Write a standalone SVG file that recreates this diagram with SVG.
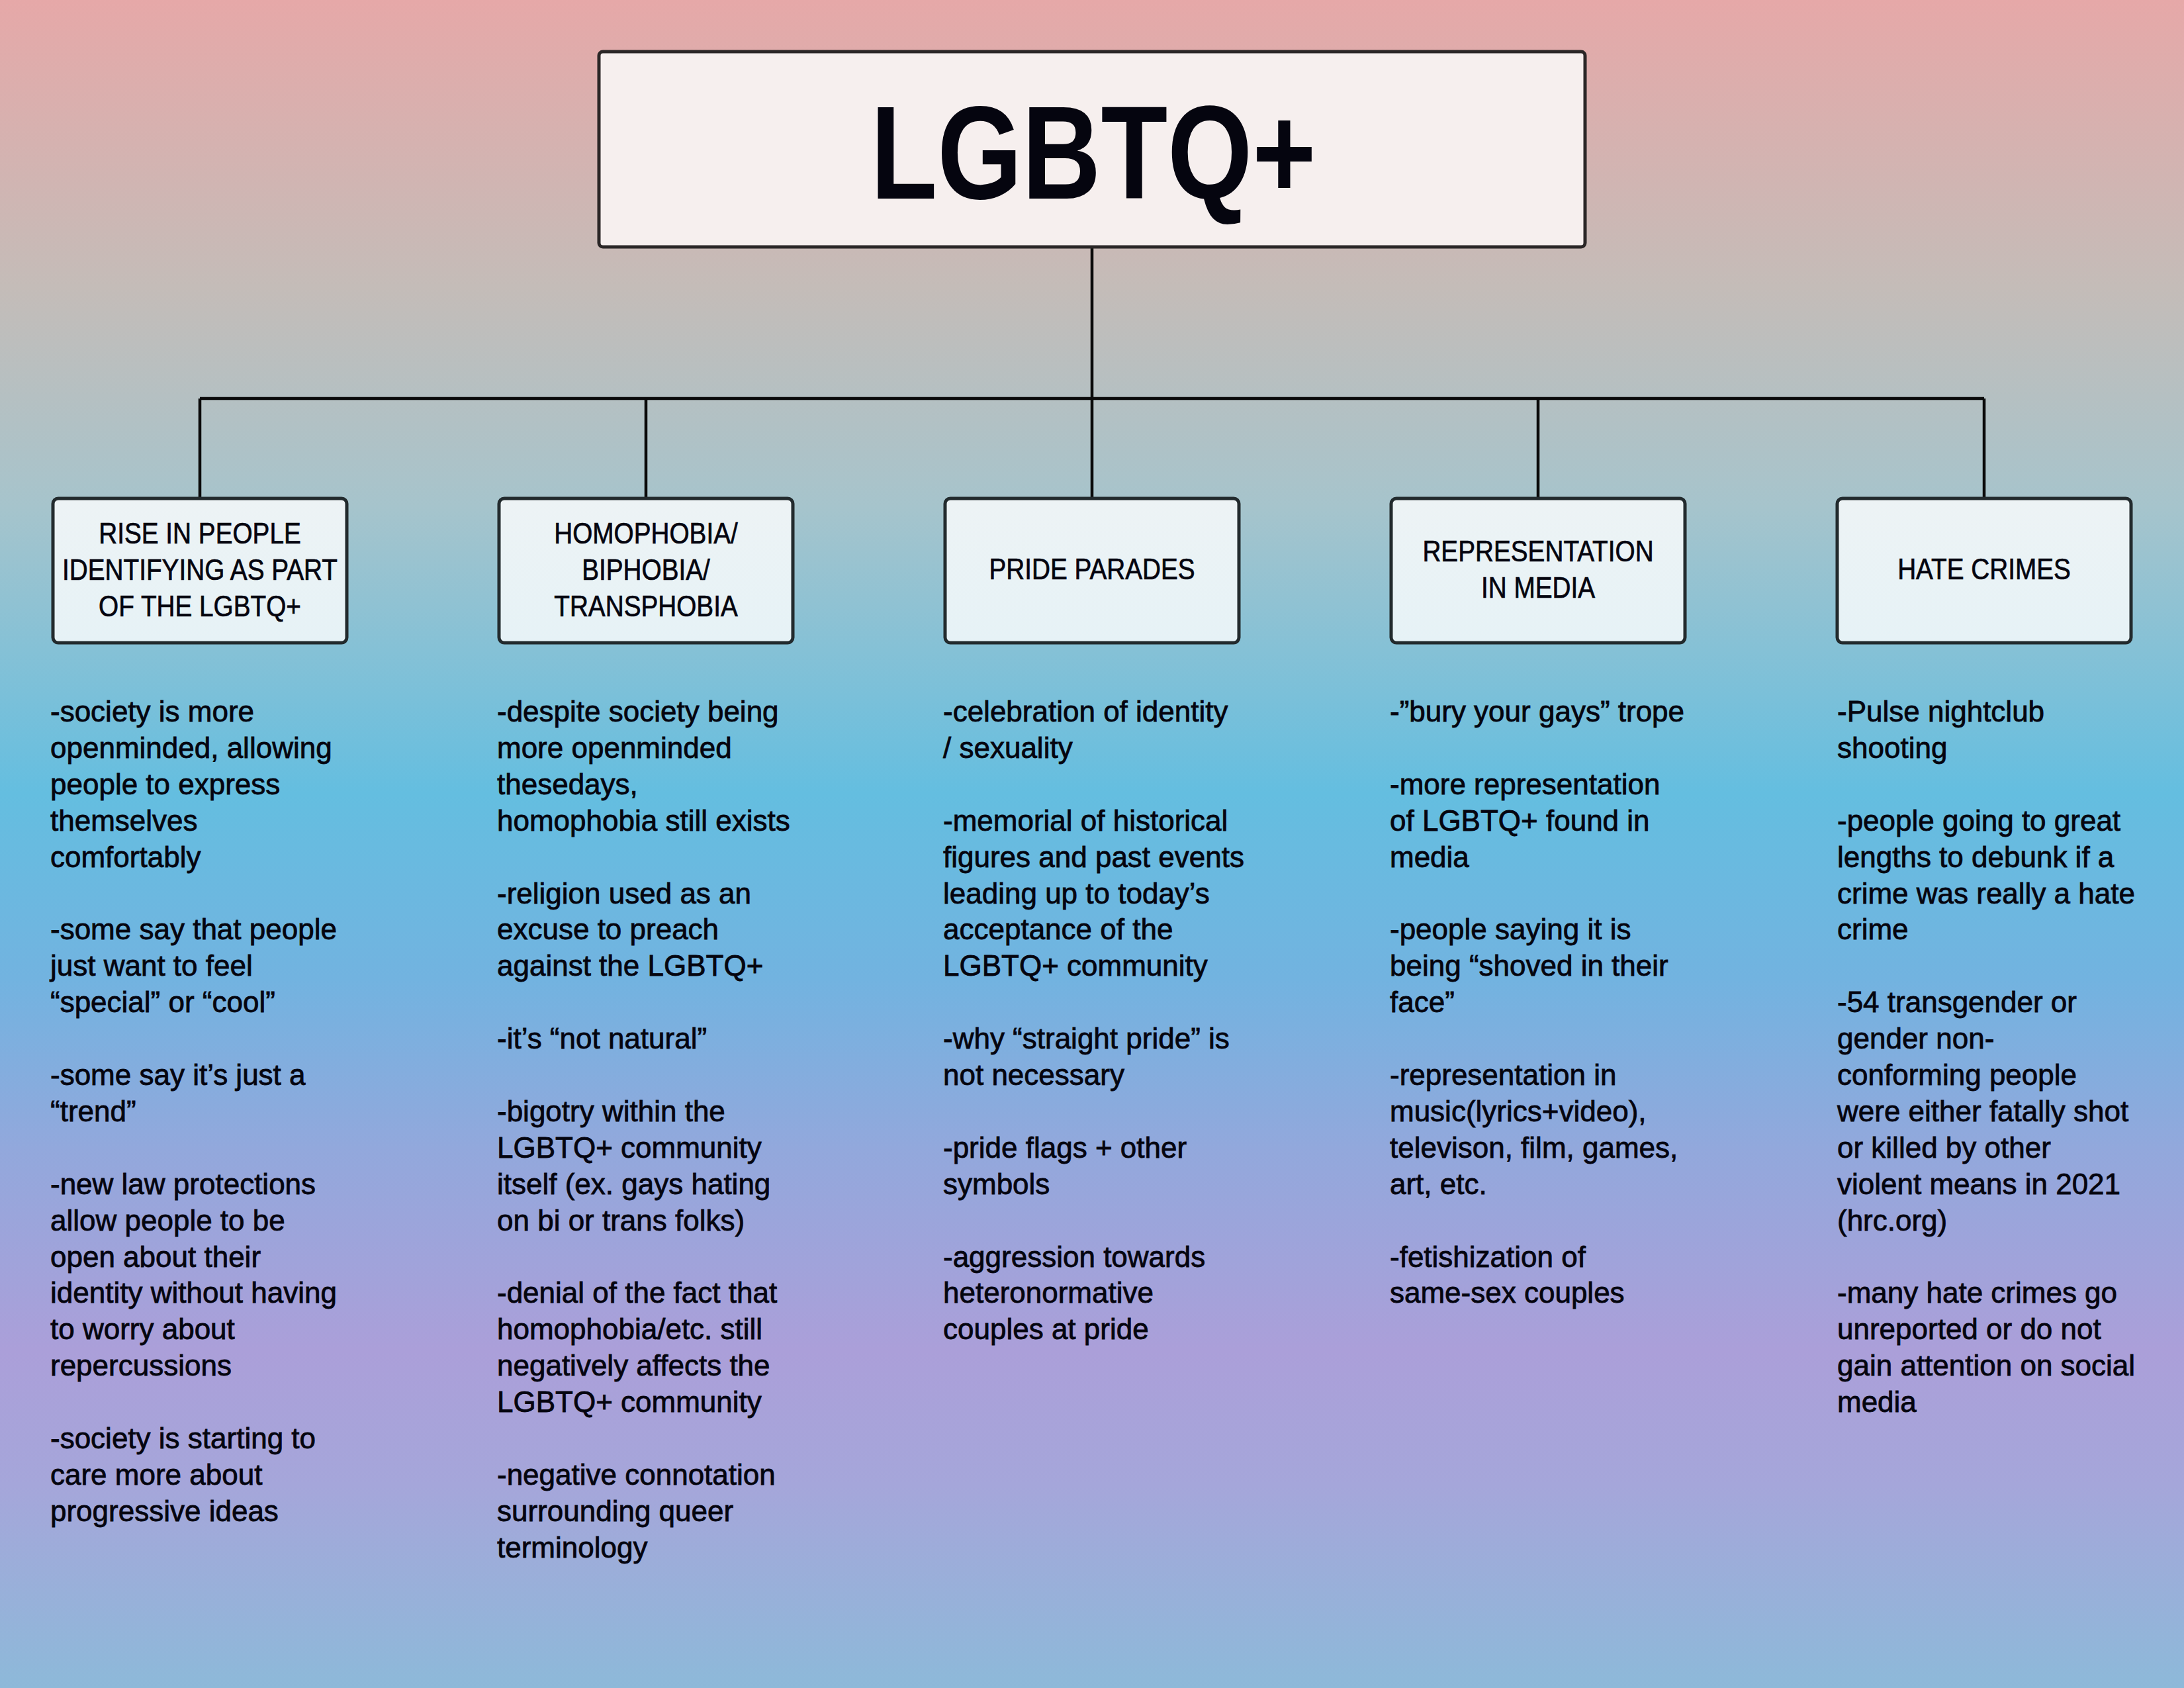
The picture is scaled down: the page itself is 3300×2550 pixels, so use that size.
<svg xmlns="http://www.w3.org/2000/svg" width="3300" height="2550" viewBox="0 0 3300 2550">
<defs>
<linearGradient id="bg" x1="0" y1="0" x2="0" y2="1">
<stop offset="0" stop-color="#e6a8a8"/>
<stop offset="0.17" stop-color="#c4bcb8"/>
<stop offset="0.30" stop-color="#a6c4cc"/>
<stop offset="0.47" stop-color="#64bee0"/>
<stop offset="0.58" stop-color="#72b3e0"/>
<stop offset="0.68" stop-color="#92a8dc"/>
<stop offset="0.80" stop-color="#ab9fd9"/>
<stop offset="0.88" stop-color="#a5a6da"/>
<stop offset="1" stop-color="#8db9d9"/>
</linearGradient>
<linearGradient id="boxfill" x1="0" y1="0" x2="0" y2="1">
<stop offset="0" stop-color="#edf3f5"/>
<stop offset="1" stop-color="#e6f2f6"/>
</linearGradient>
</defs>
<style>
.title{font-family:"Liberation Sans",Arial,sans-serif;font-size:200px;font-weight:bold;fill:#05050f;text-anchor:middle}
.nbox{fill:url(#boxfill);stroke:#222a2d;stroke-width:5}
.tbox{fill:#f6efee;stroke:#2a2626;stroke-width:5}
.lab{font-family:"Liberation Sans",Arial,sans-serif;font-size:44px;fill:#05050f;stroke:#05050f;stroke-width:0.7;text-anchor:middle}
.body{font-family:"Liberation Sans",Arial,sans-serif;font-size:44px;fill:#05050f;stroke:#05050f;stroke-width:0.8}
.conn{stroke:#0a0a0a;stroke-width:4.5;fill:none}
</style>
<rect x="0" y="0" width="3300" height="2550" fill="url(#bg)"/>

<g id="connectors">
<path class="conn" d="M1650 375 V602"/>
<path class="conn" d="M302 602 H2998"/>
<path class="conn" d="M302 602 V751"/>
<path class="conn" d="M976 602 V751"/>
<path class="conn" d="M1650 602 V751"/>
<path class="conn" d="M2324 602 V751"/>
<path class="conn" d="M2998 602 V751"/>
</g>

<g id="root">
<rect class="tbox" x="905" y="78" width="1490" height="295" rx="6"/>
<text class="title" x="1652" y="300" textLength="673" lengthAdjust="spacingAndGlyphs">LGBTQ+</text>
</g>

<g id="node-rise">
<rect class="nbox" x="80" y="753" width="444" height="218" rx="8"/>
<g transform="translate(302,0) scale(0.88,1)">
<text class="lab" x="0" y="821">RISE IN PEOPLE</text>
<text class="lab" x="0" y="876">IDENTIFYING AS PART</text>
<text class="lab" x="0" y="931">OF THE LGBTQ+</text>
</g>
</g>

<g id="node-phobia">
<rect class="nbox" x="754" y="753" width="444" height="218" rx="8"/>
<g transform="translate(976,0) scale(0.88,1)">
<text class="lab" x="0" y="821">HOMOPHOBIA/</text>
<text class="lab" x="0" y="876">BIPHOBIA/</text>
<text class="lab" x="0" y="931">TRANSPHOBIA</text>
</g>
</g>

<g id="node-pride">
<rect class="nbox" x="1428" y="753" width="444" height="218" rx="8"/>
<g transform="translate(1650,0) scale(0.88,1)">
<text class="lab" x="0" y="875">PRIDE PARADES</text>
</g>
</g>

<g id="node-media">
<rect class="nbox" x="2102" y="753" width="444" height="218" rx="8"/>
<g transform="translate(2324,0) scale(0.88,1)">
<text class="lab" x="0" y="848">REPRESENTATION</text>
<text class="lab" x="0" y="903">IN MEDIA</text>
</g>
</g>

<g id="node-hate">
<rect class="nbox" x="2776" y="753" width="444" height="218" rx="8"/>
<g transform="translate(2998,0) scale(0.88,1)">
<text class="lab" x="0" y="875">HATE CRIMES</text>
</g>
</g>

<g id="notes-rise">
<text class="body" x="76" y="1090">
<tspan x="76" dy="0">-society is more</tspan>
<tspan x="76" dy="54.9">openminded, allowing</tspan>
<tspan x="76" dy="54.9">people to express</tspan>
<tspan x="76" dy="54.9">themselves</tspan>
<tspan x="76" dy="54.9">comfortably</tspan>
<tspan x="76" dy="109.8">-some say that people</tspan>
<tspan x="76" dy="54.9">just want to feel</tspan>
<tspan x="76" dy="54.9">“special” or “cool”</tspan>
<tspan x="76" dy="109.8">-some say it’s just a</tspan>
<tspan x="76" dy="54.9">“trend”</tspan>
<tspan x="76" dy="109.8">-new law protections</tspan>
<tspan x="76" dy="54.9">allow people to be</tspan>
<tspan x="76" dy="54.9">open about their</tspan>
<tspan x="76" dy="54.9">identity without having</tspan>
<tspan x="76" dy="54.9">to worry about</tspan>
<tspan x="76" dy="54.9">repercussions</tspan>
<tspan x="76" dy="109.8">-society is starting to</tspan>
<tspan x="76" dy="54.9">care more about</tspan>
<tspan x="76" dy="54.9">progressive ideas</tspan>
</text>
</g>

<g id="notes-phobia">
<text class="body" x="751" y="1090">
<tspan x="751" dy="0">-despite society being</tspan>
<tspan x="751" dy="54.9">more openminded</tspan>
<tspan x="751" dy="54.9">thesedays,</tspan>
<tspan x="751" dy="54.9">homophobia still exists</tspan>
<tspan x="751" dy="109.8">-religion used as an</tspan>
<tspan x="751" dy="54.9">excuse to preach</tspan>
<tspan x="751" dy="54.9">against the LGBTQ+</tspan>
<tspan x="751" dy="109.8">-it’s “not natural”</tspan>
<tspan x="751" dy="109.8">-bigotry within the</tspan>
<tspan x="751" dy="54.9">LGBTQ+ community</tspan>
<tspan x="751" dy="54.9">itself (ex. gays hating</tspan>
<tspan x="751" dy="54.9">on bi or trans folks)</tspan>
<tspan x="751" dy="109.8">-denial of the fact that</tspan>
<tspan x="751" dy="54.9">homophobia/etc. still</tspan>
<tspan x="751" dy="54.9">negatively affects the</tspan>
<tspan x="751" dy="54.9">LGBTQ+ community</tspan>
<tspan x="751" dy="109.8">-negative connotation</tspan>
<tspan x="751" dy="54.9">surrounding queer</tspan>
<tspan x="751" dy="54.9">terminology</tspan>
</text>
</g>

<g id="notes-pride">
<text class="body" x="1425" y="1090">
<tspan x="1425" dy="0">-celebration of identity</tspan>
<tspan x="1425" dy="54.9">/ sexuality</tspan>
<tspan x="1425" dy="109.8">-memorial of historical</tspan>
<tspan x="1425" dy="54.9">figures and past events</tspan>
<tspan x="1425" dy="54.9">leading up to today’s</tspan>
<tspan x="1425" dy="54.9">acceptance of the</tspan>
<tspan x="1425" dy="54.9">LGBTQ+ community</tspan>
<tspan x="1425" dy="109.8">-why “straight pride” is</tspan>
<tspan x="1425" dy="54.9">not necessary</tspan>
<tspan x="1425" dy="109.8">-pride flags + other</tspan>
<tspan x="1425" dy="54.9">symbols</tspan>
<tspan x="1425" dy="109.8">-aggression towards</tspan>
<tspan x="1425" dy="54.9">heteronormative</tspan>
<tspan x="1425" dy="54.9">couples at pride</tspan>
</text>
</g>

<g id="notes-media">
<text class="body" x="2100" y="1090">
<tspan x="2100" dy="0">-”bury your gays” trope</tspan>
<tspan x="2100" dy="109.8">-more representation</tspan>
<tspan x="2100" dy="54.9">of LGBTQ+ found in</tspan>
<tspan x="2100" dy="54.9">media</tspan>
<tspan x="2100" dy="109.8">-people saying it is</tspan>
<tspan x="2100" dy="54.9">being “shoved in their</tspan>
<tspan x="2100" dy="54.9">face”</tspan>
<tspan x="2100" dy="109.8">-representation in</tspan>
<tspan x="2100" dy="54.9">music(lyrics+video),</tspan>
<tspan x="2100" dy="54.9">televison, film, games,</tspan>
<tspan x="2100" dy="54.9">art, etc.</tspan>
<tspan x="2100" dy="109.8">-fetishization of</tspan>
<tspan x="2100" dy="54.9">same-sex couples</tspan>
</text>
</g>

<g id="notes-hate">
<text class="body" x="2776" y="1090">
<tspan x="2776" dy="0">-Pulse nightclub</tspan>
<tspan x="2776" dy="54.9">shooting</tspan>
<tspan x="2776" dy="109.8">-people going to great</tspan>
<tspan x="2776" dy="54.9">lengths to debunk if a</tspan>
<tspan x="2776" dy="54.9">crime was really a hate</tspan>
<tspan x="2776" dy="54.9">crime</tspan>
<tspan x="2776" dy="109.8">-54 transgender or</tspan>
<tspan x="2776" dy="54.9">gender non-</tspan>
<tspan x="2776" dy="54.9">conforming people</tspan>
<tspan x="2776" dy="54.9">were either fatally shot</tspan>
<tspan x="2776" dy="54.9">or killed by other</tspan>
<tspan x="2776" dy="54.9">violent means in 2021</tspan>
<tspan x="2776" dy="54.9">(hrc.org)</tspan>
<tspan x="2776" dy="109.8">-many hate crimes go</tspan>
<tspan x="2776" dy="54.9">unreported or do not</tspan>
<tspan x="2776" dy="54.9">gain attention on social</tspan>
<tspan x="2776" dy="54.9">media</tspan>
</text>
</g>
</svg>
